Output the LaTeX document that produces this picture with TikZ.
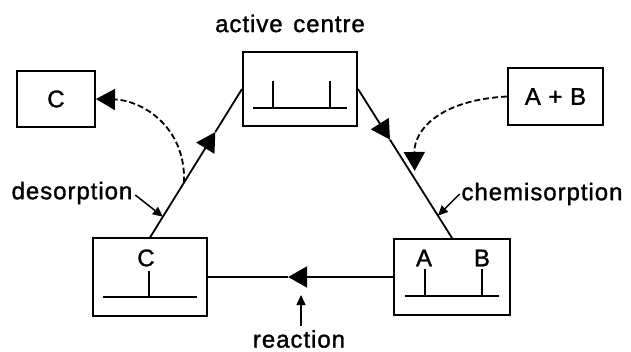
\documentclass[tikz,border=0pt]{standalone}
\usepackage{fontspec}
\setmainfont{Liberation Sans}[LetterSpace=4,FakeBold=1.3]
\usetikzlibrary{arrows.meta,calc}
\begin{document}
\begin{tikzpicture}[x=1pt,y=-1pt, line width=1.8pt,
  box/.style={draw, line width=2pt, inner sep=0pt},
  lbl/.style={font=\fontsize{24}{28}\selectfont, inner sep=0pt},
  big/.style={-{Triangle[length=19pt,width=21pt]}},
  small/.style={-{Triangle[length=10pt,width=9pt]}, line width=1.5pt},
  dashline/.style={dash pattern=on 6pt off 3pt}]
\useasboundingbox (0,0) rectangle (631,352);
% boxes
\node[box, minimum width=114pt, minimum height=74pt] (top) at (300,89) {};
\node[box, minimum width=114pt, minimum height=77pt] (cb) at (150,277) {};
\node[box, minimum width=116pt, minimum height=76pt] (ab) at (452,277) {};
\node[box, lbl, minimum width=78pt, minimum height=56pt] (c) at (56,99) {C};
\node[box, lbl, minimum width=95pt, minimum height=57pt] (apb) at (555.5,96.5) {A + B};
% labels
\node[lbl] (ac) at (290,23.5) {active\hspace{3pt} centre};
\node[lbl] (des) at (72,193) {desorption};
\node[lbl] (chem) at (542,194) {chemisorption};
\node[lbl] (rea) at (299,339) {reaction};
% points on the cycle
\path (top.west) -- (cb.north) coordinate[pos=0.29] (m1) coordinate[pos=0.63] (d1) coordinate[pos=0.86] (dp);
\path (top.east) -- (ab.north) coordinate[pos=0.34] (m2) coordinate[pos=0.55] (d2) coordinate[pos=0.85] (cp);
\path (ab.west) -- (cb.east) coordinate[pos=0.567] (m3);
\coordinate (d2r) at ($(d2)+(5,0)$);
\coordinate (rt) at (301,295);
% cycle connectors
\draw[big] (cb.north) -- (m1);
\draw (m1) -- (top.west);
\draw[big] (top.east) -- (m2);
\draw (m2) -- (ab.north);
\draw[big] (ab.west) -- (m3);
\draw (m3) -- (cb.east);
% dashed
\draw[dashline, big] (d1) .. controls (186,125) and (140,100) .. (c.east);
\draw[dashline, big] (apb.west) .. controls (440,100) and (414,130) .. (d2r);
% label pointers
\draw[small] ($(des.east)+(2,2)$) -- (dp);
\draw[small] ($(chem.west)+(-1,0)$) -- (cp);
\draw[small] ($(rea.north)+(2,-3)$) -- (rt);
% inner details: top box
\draw ($(top.center)+(-47,19)$) -- ($(top.center)+(47,19)$);
\draw ($(top.center)+(-27,19)$) -- ($(top.center)+(-27,-8)$);
\draw ($(top.center)+(30,19)$) -- ($(top.center)+(30,-8)$);
% C box
\draw ($(cb.center)+(-47,20)$) -- ($(cb.center)+(47,20)$);
\draw ($(cb.center)+(-1,20)$) -- ($(cb.center)+(-1,-6)$);
\node[lbl] (cl) at ($(cb.center)+(-4,-19)$) {C};
% AB box
\draw ($(ab.center)+(-47,19)$) -- ($(ab.center)+(47,19)$);
\draw ($(ab.center)+(-27,19)$) -- ($(ab.center)+(-27,-8)$);
\draw ($(ab.center)+(30,19)$) -- ($(ab.center)+(30,-8)$);
\node[lbl] (al) at ($(ab.center)+(-28,-19)$) {A};
\node[lbl] (bl) at ($(ab.center)+(30,-19)$) {B};
\end{tikzpicture}
\end{document}
